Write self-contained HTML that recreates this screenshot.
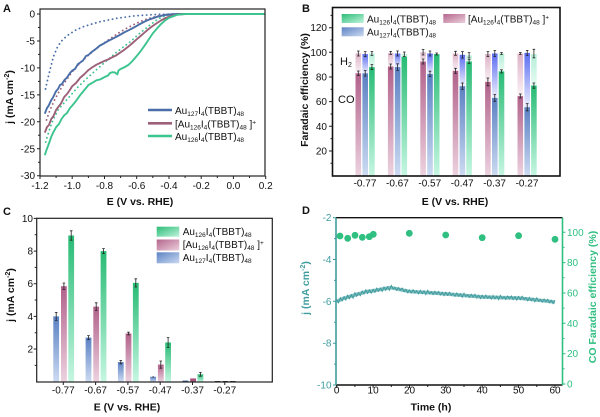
<!DOCTYPE html>
<html><head><meta charset="utf-8"><style>
html,body{margin:0;padding:0;background:#fff;}
svg{display:block;font-family:"Liberation Sans",Arial,sans-serif;}
.t{font-size:10px;fill:#111;}
.b{font-weight:bold;font-size:10.5px;fill:#111;}
.pl{font-weight:bold;font-size:11px;fill:#111;}
</style></head><body>
<svg width="600" height="417" viewBox="0 0 600 417" xmlns="http://www.w3.org/2000/svg">
<defs>
<linearGradient id="gP" x1="0" y1="0" x2="0" y2="1"><stop offset="0" stop-color="#b1618a"/><stop offset="1" stop-color="#ecd2df"/></linearGradient>
<linearGradient id="gB" x1="0" y1="0" x2="0" y2="1"><stop offset="0" stop-color="#5a80c2"/><stop offset="1" stop-color="#cddbf2"/></linearGradient>
<linearGradient id="gG" x1="0" y1="0" x2="0" y2="1"><stop offset="0" stop-color="#27bb74"/><stop offset="1" stop-color="#c6f6e2"/></linearGradient>
<linearGradient id="hP" x1="0" y1="0" x2="0" y2="1"><stop offset="0" stop-color="#dcb2c7"/><stop offset="1" stop-color="#fbf2f6"/></linearGradient>
<linearGradient id="hB" x1="0" y1="0" x2="0" y2="1"><stop offset="0" stop-color="#5b6df0"/><stop offset="1" stop-color="#eef0fe"/></linearGradient>
<linearGradient id="hG" x1="0" y1="0" x2="0" y2="1"><stop offset="0" stop-color="#b3eed7"/><stop offset="1" stop-color="#e8fbf3"/></linearGradient>
<linearGradient id="sG" x1="0" y1="0" x2="1" y2="1"><stop offset="0" stop-color="#2cbd77"/><stop offset="1" stop-color="#bff3dc"/></linearGradient>
<linearGradient id="sP" x1="0" y1="0" x2="1" y2="1"><stop offset="0" stop-color="#b4668c"/><stop offset="1" stop-color="#ecd0dd"/></linearGradient>
<linearGradient id="sB" x1="0" y1="0" x2="1" y2="1"><stop offset="0" stop-color="#5d83c4"/><stop offset="1" stop-color="#cbd9f1"/></linearGradient>
</defs>

<!-- ================= PANEL A ================= -->
<text x="3" y="12" class="pl">A</text>
<g stroke="#222" stroke-width="1" fill="none">
<path d="M40,176 v3 M72.2,176 v3 M104.5,176 v3 M136.7,176 v3 M169,176 v3 M201.2,176 v3 M233.4,176 v3 M265.7,176 v3"/>
<path d="M56.1,176 v2 M88.4,176 v2 M120.6,176 v2 M152.8,176 v2 M185.1,176 v2 M217.3,176 v2 M249.5,176 v2"/>
<path d="M40,14 h-3 M40,40.95 h-3 M40,67.9 h-3 M40,94.85 h-3 M40,121.8 h-3 M40,148.75 h-3 M40,175.7 h-3"/>
<path d="M40,27.5 h-2 M40,54.4 h-2 M40,81.4 h-2 M40,108.3 h-2 M40,135.3 h-2 M40,162.2 h-2"/>
</g>
<g class="t" text-anchor="end">
<text x="35" y="17.5">0</text><text x="35" y="44.5">-5</text><text x="35" y="71.4">-10</text><text x="35" y="98.4">-15</text><text x="35" y="125.3">-20</text><text x="35" y="152.3">-25</text><text x="35" y="179.2">-30</text>
</g>
<g class="t" text-anchor="middle">
<text x="40" y="189">-1.2</text><text x="72.2" y="189">-1.0</text><text x="104.5" y="189">-0.8</text><text x="136.7" y="189">-0.6</text><text x="169" y="189">-0.4</text><text x="201.2" y="189">-0.2</text><text x="233.4" y="189">0.0</text><text x="265.7" y="189">0.2</text>
</g>
<text x="140" y="205" class="b" text-anchor="middle">E (V vs. RHE)</text>
<text transform="translate(13,97) rotate(-90)" class="b" text-anchor="middle">j (mA cm<tspan dy="-4" font-size="7">-2</tspan><tspan dy="4">)</tspan></text>

<g fill="none" stroke-width="1.8" stroke-linecap="round" stroke-dasharray="0.1 4.2">
<polyline stroke="#4a6ea8" points="45.5,89 48,78 50.5,68 53.3,57 57,48 61,41.5 66.7,36 75,30.5 83.3,26.7 92,24 100,21.7 116.7,18.3 133.3,16 146.7,15 160,14.3 175,14 265,14"/>
<polyline stroke="#a0627c" points="46.5,120 50,110 55,99 60,90 66,80.5 72,72 80,63 88,55.5 96,49 104,43 112,37.5 120,32 128,27.5 136,23.5 144,20 152,17.5 160,15.5 170,14.3 180,14 265,14"/>
<polyline stroke="#3cc48e" points="45.7,142 49,131 53,120 58,110 64,103 70,96 78,87 86.7,78.5 95,71 104,63 115,53.5 122,48 130,42 140,33 150,25 158,19 166,15.5 175,14.2 185,14 265,14"/>
</g>
<g fill="none" stroke-width="1.9" stroke-linejoin="round">
<polyline stroke="#4a6ea8" points="44.8,113.7 47,108 48.5,106 51.2,100.2 53,97.5 56.1,91.1 58,89 60,85 62,84 64.2,80.3 67,77.5 70,73 72.2,70.6 75,69 78,64 80.3,62.5 83,60.5 86,56 88.4,55 91,52.5 93,51 96.4,48.5 100,45.5 104.5,43.1 108,41 112.5,38.8 116,37 120.6,34.5 124,32.5 128.7,30.2 132,28.5 136.7,25.9 140,24 144.8,21.5 148,20 152.8,18.3 157,16.8 160.9,15.9 165,15 169,14.5 177,14 265,14"/>
<polyline stroke="#9c6179" points="44.8,132.6 47,127 49,125 51.2,119.1 53.5,116 56.1,109.9 59,106 61,103.5 64.2,97 67,94 69.5,90.5 72.2,86.2 76,83 80.3,77.6 84,74.5 88.4,70.1 92,67.5 96.4,64.7 100,63 104.5,60.9 108,59.5 112.5,57.1 116,55.5 120.6,52.3 124,50 128.7,46.3 132,43.5 136.7,39.3 140,36.5 144.8,32.3 148,29.5 152.8,25.9 157,23 160.9,20.5 165,18.3 169,16.7 177,14.5 185.1,14 265,14"/>
<polyline stroke="#3cc48e" points="44.8,155.2 46.5,150 48,146 49.5,142 51.2,136.9 53.5,132 56.1,127.2 59,124 61.5,119 64.2,115.3 67,113 70,108 72.2,105.6 76,101 80.3,94.9 84,90.5 88.4,85.1 92,83 96.4,80.3 100,79.5 104.5,77.1 108,75.5 110,73 112.5,72.2 115,72.5 117.4,74.4 118.5,70.5 120.6,69 124,67.5 128.7,64.7 132,61.5 136.7,56 140,52 144.8,45.3 148,40.5 152.8,33.4 157,28.5 160.9,24.2 165,20.5 169,17.8 177,14.8 185.1,14 265,14"/>
</g>
<rect x="40" y="9" width="225" height="167" fill="none" stroke="#222" stroke-width="1.2"/>
<g stroke-width="2.6">
<line x1="148" y1="110" x2="172" y2="110" stroke="#4a6ea8"/>
<line x1="148" y1="123.3" x2="172" y2="123.3" stroke="#9c6179"/>
<line x1="148" y1="136" x2="172" y2="136" stroke="#3cc48e"/>
</g>
<g class="t">
<text x="175" y="114">Au<tspan font-size="6.5" dy="2">127</tspan><tspan dy="-2">I</tspan><tspan font-size="6.5" dy="2">4</tspan><tspan dy="-2">(TBBT)</tspan><tspan font-size="6.5" dy="2">48</tspan></text>
<text x="175" y="127.3">[Au<tspan font-size="6.5" dy="2">126</tspan><tspan dy="-2">I</tspan><tspan font-size="6.5" dy="2">4</tspan><tspan dy="-2">(TBBT)</tspan><tspan font-size="6.5" dy="2">48</tspan><tspan dy="-2"> ]</tspan><tspan font-size="6.5" dy="-3">+</tspan></text>
<text x="175" y="140">Au<tspan font-size="6.5" dy="2">126</tspan><tspan dy="-2">I</tspan><tspan font-size="6.5" dy="2">4</tspan><tspan dy="-2">(TBBT)</tspan><tspan font-size="6.5" dy="2">48</tspan></text>
</g>

<!-- ================= PANEL B ================= -->
<text x="302" y="12" class="pl">B</text>
<g stroke="#222" stroke-width="1">
<path d="M332.5,27.7 h-3.5 M332.5,52.3 h-3.5 M332.5,77 h-3.5 M332.5,101.6 h-3.5 M332.5,126.3 h-3.5 M332.5,151 h-3.5"/>
<path d="M332.5,15.4 h-2 M332.5,40 h-2 M332.5,64.7 h-2 M332.5,89.3 h-2 M332.5,114 h-2 M332.5,138.6 h-2 M332.5,163.3 h-2"/>
</g>
<g class="t" text-anchor="end">
<text x="327" y="31.2">120</text><text x="327" y="55.8">100</text><text x="327" y="80.5">80</text><text x="327" y="105.1">60</text><text x="327" y="129.8">40</text><text x="327" y="154.5">20</text>
</g>
<g class="t" text-anchor="middle">
<text x="365" y="186.5">-0.77</text><text x="397.4" y="186.5">-0.67</text><text x="429.8" y="186.5">-0.57</text><text x="462.2" y="186.5">-0.47</text><text x="494.6" y="186.5">-0.37</text><text x="527" y="186.5">-0.27</text>
</g>
<text x="455" y="205" class="b" text-anchor="middle">E (V vs. RHE)</text>
<text transform="translate(308,90) rotate(-90)" class="b" text-anchor="middle">Faradaic efficiency (%)</text>
<text x="340" y="65" font-size="11" fill="#111">H<tspan font-size="7" dy="2">2</tspan></text>
<text x="338" y="103" font-size="11" fill="#111">CO</text>
<g>
<rect x="355.5" y="53.5" width="5.6" height="19.8" fill="url(#hP)"/>
<rect x="362.4" y="54.1" width="5.6" height="19.2" fill="url(#hB)"/>
<rect x="369.1" y="53.5" width="5.6" height="13.6" fill="url(#hG)"/>
<rect x="387.9" y="52.9" width="5.6" height="13.6" fill="url(#hP)"/>
<rect x="394.8" y="53.5" width="5.6" height="13.6" fill="url(#hB)"/>
<rect x="401.5" y="54.1" width="5.6" height="2.5" fill="url(#hG)"/>
<rect x="420.3" y="52.3" width="5.6" height="9.2" fill="url(#hP)"/>
<rect x="427.2" y="53.5" width="5.6" height="20.4" fill="url(#hB)"/>
<rect x="452.7" y="53.5" width="5.6" height="17.3" fill="url(#hP)"/>
<rect x="459.6" y="54.8" width="5.6" height="31.4" fill="url(#hB)"/>
<rect x="466.3" y="55.4" width="5.6" height="6.1" fill="url(#hG)"/>
<rect x="485.1" y="54.1" width="5.6" height="27.8" fill="url(#hP)"/>
<rect x="492" y="53.5" width="5.6" height="44.4" fill="url(#hB)"/>
<rect x="498.7" y="53.5" width="5.6" height="17.9" fill="url(#hG)"/>
<rect x="517.5" y="53.5" width="5.6" height="42.6" fill="url(#hP)"/>
<rect x="524.4" y="52.9" width="5.6" height="54.3" fill="url(#hB)"/>
<rect x="531.1" y="54.1" width="5.6" height="31.5" fill="url(#hG)"/>
</g>
<g>
<rect x="355.5" y="73.3" width="5.6" height="102.3" fill="url(#gP)"/>
<rect x="362.4" y="73.3" width="5.6" height="102.3" fill="url(#gB)"/>
<rect x="369.1" y="67.1" width="5.6" height="108.5" fill="url(#gG)"/>
<rect x="387.9" y="66.5" width="5.6" height="109.1" fill="url(#gP)"/>
<rect x="394.8" y="67.1" width="5.6" height="108.5" fill="url(#gB)"/>
<rect x="401.5" y="56.6" width="5.6" height="119" fill="url(#gG)"/>
<rect x="420.3" y="61.5" width="5.6" height="114.1" fill="url(#gP)"/>
<rect x="427.2" y="73.9" width="5.6" height="101.7" fill="url(#gB)"/>
<rect x="433.9" y="54.1" width="5.6" height="121.5" fill="url(#gG)"/>
<rect x="452.7" y="70.8" width="5.6" height="104.8" fill="url(#gP)"/>
<rect x="459.6" y="86.2" width="5.6" height="89.4" fill="url(#gB)"/>
<rect x="466.3" y="61.5" width="5.6" height="114.1" fill="url(#gG)"/>
<rect x="485.1" y="81.9" width="5.6" height="93.7" fill="url(#gP)"/>
<rect x="492" y="97.9" width="5.6" height="77.7" fill="url(#gB)"/>
<rect x="498.7" y="71.4" width="5.6" height="104.2" fill="url(#gG)"/>
<rect x="517.5" y="96.1" width="5.6" height="79.5" fill="url(#gP)"/>
<rect x="524.4" y="107.2" width="5.6" height="68.4" fill="url(#gB)"/>
<rect x="531.1" y="85.6" width="5.6" height="90" fill="url(#gG)"/>
</g>
<g stroke="#222" stroke-width="0.8" fill="none">
<path d="M358.3,51 v5 M357,51 h2.6 M357,56 h2.6 M365.2,51.6 v5 M363.9,51.6 h2.6 M363.9,56.6 h2.6 M371.9,51.5 v4 M370.6,51.5 h2.6 M370.6,55.5 h2.6"/>
<path d="M358.3,71 v4.6 M357,71 h2.6 M357,75.6 h2.6 M365.2,70.5 v5.6 M363.9,70.5 h2.6 M363.9,76.1 h2.6 M371.9,64.6 v5 M370.6,64.6 h2.6 M370.6,69.6 h2.6"/>
<path d="M390.7,51.4 v3 M389.4,51.4 h2.6 M389.4,54.4 h2.6 M397.6,51 v5 M396.3,51 h2.6 M396.3,56 h2.6 M404.3,52 v4.5 M403,52 h2.6 M403,56.5 h2.6"/>
<path d="M390.7,64 v5 M389.4,64 h2.6 M389.4,69 h2.6 M397.6,63.8 v6.6 M396.3,63.8 h2.6 M396.3,70.4 h2.6"/>
<path d="M423.1,49.5 v5.5 M421.8,49.5 h2.6 M421.8,55 h2.6 M430,51 v5 M428.7,51 h2.6 M428.7,56 h2.6 M436.7,53 v2 M435.4,53 h2.6 M435.4,55 h2.6"/>
<path d="M423.1,59 v5 M421.8,59 h2.6 M421.8,64 h2.6 M430,71.2 v5.4 M428.7,71.2 h2.6 M428.7,76.6 h2.6"/>
<path d="M455.5,51.3 v4 M454.2,51.3 h2.6 M454.2,55.3 h2.6 M462.4,51.5 v6.6 M461.1,51.5 h2.6 M461.1,58.1 h2.6 M469.1,52.6 v5.4 M467.8,52.6 h2.6 M467.8,58 h2.6"/>
<path d="M455.5,68.3 v5 M454.2,68.3 h2.6 M454.2,73.3 h2.6 M462.4,83 v6.4 M461.1,83 h2.6 M461.1,89.4 h2.6 M469.1,59.5 v4 M467.8,59.5 h2.6 M467.8,63.5 h2.6"/>
<path d="M487.9,51.6 v5 M486.6,51.6 h2.6 M486.6,56.6 h2.6 M494.8,50.5 v6 M493.5,50.5 h2.6 M493.5,56.5 h2.6 M501.5,52.5 v2 M500.2,52.5 h2.6 M500.2,54.5 h2.6"/>
<path d="M487.9,78 v7.8 M486.6,78 h2.6 M486.6,85.8 h2.6 M494.8,94.5 v6.8 M493.5,94.5 h2.6 M493.5,101.3 h2.6 M501.5,69.8 v3.2 M500.2,69.8 h2.6 M500.2,73 h2.6"/>
<path d="M520.3,52.5 v2 M519,52.5 h2.6 M519,54.5 h2.6 M527.2,50.4 v5 M525.9,50.4 h2.6 M525.9,55.4 h2.6 M533.9,49.3 v8.5 M532.6,49.3 h2.6 M532.6,57.8 h2.6"/>
<path d="M520.3,94 v4 M519,94 h2.6 M519,98 h2.6 M527.2,103.6 v7.2 M525.9,103.6 h2.6 M525.9,110.8 h2.6 M533.9,83 v5.2 M532.6,83 h2.6 M532.6,88.2 h2.6"/>
</g>
<rect x="332.5" y="7.5" width="227.5" height="168.5" fill="none" stroke="#111" stroke-width="1.6"/>
<rect x="341.7" y="14" width="22" height="9" fill="url(#sG)"/>
<rect x="341.7" y="27.3" width="22" height="9" fill="url(#sB)"/>
<rect x="443.3" y="14" width="22" height="9" fill="url(#sP)"/>
<g class="t">
<text x="367" y="22.3">Au<tspan font-size="6.5" dy="2">126</tspan><tspan dy="-2">I</tspan><tspan font-size="6.5" dy="2">4</tspan><tspan dy="-2">(TBBT)</tspan><tspan font-size="6.5" dy="2">48</tspan></text>
<text x="367" y="35.6">Au<tspan font-size="6.5" dy="2">127</tspan><tspan dy="-2">I</tspan><tspan font-size="6.5" dy="2">4</tspan><tspan dy="-2">(TBBT)</tspan><tspan font-size="6.5" dy="2">48</tspan></text>
<text x="468" y="22.3">[Au<tspan font-size="6.5" dy="2">126</tspan><tspan dy="-2">I</tspan><tspan font-size="6.5" dy="2">4</tspan><tspan dy="-2">(TBBT)</tspan><tspan font-size="6.5" dy="2">48</tspan><tspan dy="-2"> ]</tspan><tspan font-size="6.5" dy="-3">+</tspan></text>
</g>

<!-- ================= PANEL C ================= -->
<text x="3" y="215" class="pl">C</text>
<g stroke="#222" stroke-width="1">
<path d="M36.7,218.4 h-3 M36.7,251.1 h-3 M36.7,283.7 h-3 M36.7,316.4 h-3 M36.7,349 h-3"/>
<path d="M36.7,234.7 h-2 M36.7,267.4 h-2 M36.7,300 h-2 M36.7,332.7 h-2 M36.7,365.4 h-2"/>
<path d="M63.3,382 v3 M95.6,382 v3 M127.9,382 v3 M160.2,382 v3 M192.5,382 v3 M224.8,382 v3"/>
</g>
<g class="t" text-anchor="end">
<text x="33" y="221.9">10</text><text x="33" y="254.6">8</text><text x="33" y="287.2">6</text><text x="33" y="319.9">4</text><text x="33" y="352.5">2</text>
</g>
<g class="t" text-anchor="middle">
<text x="63.3" y="393.5">-0.77</text><text x="95.6" y="393.5">-0.67</text><text x="127.9" y="393.5">-0.57</text><text x="160.2" y="393.5">-0.47</text><text x="192.5" y="393.5">-0.37</text><text x="224.8" y="393.5">-0.27</text>
</g>
<text x="127" y="410.5" class="b" text-anchor="middle">E (V vs. RHE)</text>
<text transform="translate(14,295) rotate(-90)" class="b" text-anchor="middle">j (mA cm<tspan dy="-4" font-size="7">-2</tspan><tspan dy="4">)</tspan></text>
<g>
<rect x="53.3" y="316.4" width="5.8" height="65.6" fill="url(#gB)"/>
<rect x="61" y="286.2" width="5.8" height="95.8" fill="url(#gP)"/>
<rect x="68.3" y="235.5" width="5.8" height="146.5" fill="url(#gG)"/>
<rect x="85.6" y="337.6" width="5.8" height="44.4" fill="url(#gB)"/>
<rect x="93.3" y="306.6" width="5.8" height="75.4" fill="url(#gP)"/>
<rect x="100.6" y="251.1" width="5.8" height="130.9" fill="url(#gG)"/>
<rect x="117.9" y="362.1" width="5.8" height="19.9" fill="url(#gB)"/>
<rect x="125.6" y="333.5" width="5.8" height="48.5" fill="url(#gP)"/>
<rect x="132.9" y="282.9" width="5.8" height="99.1" fill="url(#gG)"/>
<rect x="150.2" y="376.8" width="5.8" height="5.2" fill="url(#gB)"/>
<rect x="157.9" y="364.6" width="5.8" height="17.4" fill="url(#gP)"/>
<rect x="165.2" y="342.5" width="5.8" height="39.5" fill="url(#gG)"/>
<rect x="182.5" y="380.6" width="5.8" height="1.4" fill="#3f5f99"/>
<rect x="190.2" y="378.4" width="5.8" height="3.6" fill="#a8557e"/>
<rect x="197.5" y="374.3" width="5.8" height="7.7" fill="url(#gG)"/>
<rect x="214.8" y="381" width="5.8" height="1" fill="#333"/>
<rect x="222.5" y="381" width="5.8" height="1" fill="#333"/>
<rect x="229.8" y="381" width="5.8" height="1" fill="#333"/>
</g>
<g stroke="#222" stroke-width="0.8" fill="none">
<path d="M56.2,312.4 v8 M54.9,312.4 h2.6 M54.9,320.4 h2.6 M63.9,283 v6.4 M62.6,283 h2.6 M62.6,289.4 h2.6 M71.2,230.8 v9.4 M69.9,230.8 h2.6 M69.9,240.2 h2.6"/>
<path d="M88.5,335.6 v4 M87.2,335.6 h2.6 M87.2,339.6 h2.6 M96.2,302.8 v7.6 M94.9,302.8 h2.6 M94.9,310.4 h2.6 M103.5,248.6 v5 M102.2,248.6 h2.6 M102.2,253.6 h2.6"/>
<path d="M120.8,360.4 v3.4 M119.5,360.4 h2.6 M119.5,363.8 h2.6 M128.5,332.2 v2.6 M127.2,332.2 h2.6 M127.2,334.8 h2.6 M135.8,278.8 v8.2 M134.5,278.8 h2.6 M134.5,287 h2.6"/>
<path d="M153.1,376 v1.6 M168.1,337.6 v9.8 M166.8,337.6 h2.6 M166.8,347.4 h2.6 M160.8,361 v7.2 M159.5,361 h2.6 M159.5,368.2 h2.6"/>
<path d="M200.4,372.4 v3.8 M199.1,372.4 h2.6 M199.1,376.2 h2.6"/>
</g>
<rect x="36.7" y="218.3" width="235.6" height="163.7" fill="none" stroke="#222" stroke-width="1.2"/>
<rect x="156.7" y="226.7" width="22.6" height="10" fill="url(#sG)"/>
<rect x="156.7" y="239.5" width="22.6" height="11" fill="url(#sP)"/>
<rect x="156.7" y="252.3" width="22.6" height="11" fill="url(#sB)"/>
<g class="t">
<text x="182.7" y="235">Au<tspan font-size="6.5" dy="2">126</tspan><tspan dy="-2">I</tspan><tspan font-size="6.5" dy="2">4</tspan><tspan dy="-2">(TBBT)</tspan><tspan font-size="6.5" dy="2">48</tspan></text>
<text x="182.7" y="248">[Au<tspan font-size="6.5" dy="2">126</tspan><tspan dy="-2">I</tspan><tspan font-size="6.5" dy="2">4</tspan><tspan dy="-2">(TBBT)</tspan><tspan font-size="6.5" dy="2">48</tspan><tspan dy="-2"> ]</tspan><tspan font-size="6.5" dy="-3">+</tspan></text>
<text x="182.7" y="261">Au<tspan font-size="6.5" dy="2">127</tspan><tspan dy="-2">I</tspan><tspan font-size="6.5" dy="2">4</tspan><tspan dy="-2">(TBBT)</tspan><tspan font-size="6.5" dy="2">48</tspan></text>
</g>

<!-- ================= PANEL D ================= -->
<text x="302" y="214" class="pl">D</text>
<g stroke="#3f9c9e" stroke-width="1">
<path d="M336,217.7 h-3 M336,259.5 h-3 M336,301.3 h-3 M336,343.2 h-3 M336,385 h-3"/>
<path d="M336,238.6 h-2 M336,280.4 h-2 M336,322.3 h-2 M336,364.1 h-2"/>
</g>
<g stroke="#2fbf80" stroke-width="1">
<path d="M562.5,384 h3 M562.5,353.7 h3 M562.5,323.3 h3 M562.5,293 h3 M562.5,262.6 h3 M562.5,232.3 h3"/>
<path d="M562.5,368.8 h2 M562.5,338.5 h2 M562.5,308.1 h2 M562.5,277.8 h2 M562.5,247.4 h2"/>
</g>
<g stroke="#222" stroke-width="1">
<path d="M336.7,385 v3 M373.1,385 v3 M409.5,385 v3 M445.8,385 v3 M482.2,385 v3 M518.6,385 v3 M555,385 v3"/>
<path d="M354.9,385 v2 M391.3,385 v2 M427.7,385 v2 M464,385 v2 M500.4,385 v2 M536.8,385 v2"/>
</g>
<g class="t" text-anchor="end" style="fill:#3f9c9e">
<text x="331.5" y="221.2">-2</text><text x="331.5" y="263">-4</text><text x="331.5" y="304.8">-6</text><text x="331.5" y="346.7">-8</text><text x="331.5" y="388.5">-10</text>
</g>
<g class="t" style="fill:#2fbf80">
<text x="567" y="387.5">0</text><text x="567" y="357.2">20</text><text x="567" y="326.8">40</text><text x="567" y="296.5">60</text><text x="567" y="266.1">80</text><text x="567" y="235.8">100</text>
</g>
<g class="t" text-anchor="middle">
<text x="336.7" y="393.5">0</text><text x="373.1" y="393.5">10</text><text x="409.5" y="393.5">20</text><text x="445.8" y="393.5">30</text><text x="482.2" y="393.5">40</text><text x="518.6" y="393.5">50</text><text x="555" y="393.5">60</text>
</g>
<text x="431" y="410.5" class="b" text-anchor="middle">Time (h)</text>
<text transform="translate(309,288) rotate(-90)" class="b" text-anchor="middle" style="fill:#3f9c9e">j (mA cm<tspan dy="-4" font-size="7">-2</tspan><tspan dy="4">)</tspan></text>
<text transform="translate(596,297) rotate(-90)" class="b" text-anchor="middle" style="fill:#2fbf80">CO Faradaic efficiency (%)</text>
<polyline fill="none" stroke="#5aaaac" stroke-width="3.6" stroke-opacity="0.75" stroke-linejoin="round" points="336.7,301.3 340.3,299.8 344,298.1 347.6,297.1 351.3,296 354.9,295 358.5,293.9 362.2,292.9 365.8,291.8 369.4,291.2 373.1,290.9 380.4,289.4 387.6,288.1 391.3,287.7 398.5,289.3 409.5,291.5 427.7,292.6 445.8,293.9 464,295.4 482.2,296.9 500.4,297.6 518.6,298.1 536.8,300 555,302"/>
<polyline fill="none" stroke="#3f9c9e" stroke-width="1" points="336.7,299.7 338.5,302.7 340.3,297.8 342.1,300.9 344.0,296.9 345.8,300.0 347.6,295.3 349.4,298.6 351.3,294.6 353.1,298.1 354.9,292.8 356.7,296.2 358.5,292.9 360.3,295.6 362.2,291.2 364.0,293.9 365.8,289.9 367.6,293.4 369.4,289.9 371.2,293.2 373.1,289.3 374.9,292.3 376.7,288.2 378.5,291.3 380.4,288.2 382.2,291.3 384.0,287.0 385.8,290.3 387.6,286.7 389.4,290.2 391.3,285.5 393.1,288.9 394.9,287.5 396.7,290.2 398.5,287.6 400.3,290.3 402.2,288.1 404.0,291.6 405.8,289.5 407.6,292.8 409.5,289.9 411.3,292.9 413.1,289.8 414.9,292.9 416.7,290.8 418.5,293.9 420.4,290.4 422.2,293.7 424.0,291.0 425.8,294.5 427.7,290.4 429.5,293.8 431.3,291.8 433.1,294.5 434.9,291.3 436.7,294.0 438.6,291.4 440.4,294.9 442.2,292.3 444.0,295.6 445.8,292.3 447.6,295.3 449.5,292.2 451.3,295.3 453.1,293.3 454.9,296.4 456.8,293.0 458.6,296.3 460.4,293.7 462.2,297.2 464.0,293.2 465.8,296.6 467.7,294.7 469.5,297.4 471.3,294.3 473.1,297.0 474.9,294.4 476.7,297.9 478.6,295.3 480.4,298.6 482.2,295.3 484.0,298.3 485.9,295.1 487.7,298.2 489.5,296.0 491.3,299.1 493.1,295.6 494.9,298.9 496.8,296.1 498.6,299.6 500.4,295.4 502.2,298.8 504.0,296.7 505.8,299.4 507.7,296.1 509.5,298.8 511.3,296.0 513.1,299.5 515.0,296.7 516.8,300.0 518.6,296.5 520.4,299.5 522.2,296.4 524.0,299.5 525.9,297.6 527.7,300.7 529.5,297.4 531.3,300.7 533.1,298.2 534.9,301.7 536.8,297.8 538.6,301.2 540.4,299.4 542.2,302.1 544.1,299.1 545.9,301.8 547.7,299.3 549.5,302.8 551.3,300.3 553.1,303.6 555.0,300.4"/>
<g fill="#2fbf80">
<circle cx="340" cy="236" r="3.4"/><circle cx="347.7" cy="238.3" r="3.4"/><circle cx="355" cy="235.3" r="3.4"/><circle cx="362.3" cy="237.3" r="3.4"/><circle cx="369.3" cy="236.7" r="3.4"/><circle cx="373.3" cy="234.3" r="3.4"/><circle cx="409.3" cy="233.3" r="3.4"/><circle cx="445.7" cy="235" r="3.4"/><circle cx="482.2" cy="237.7" r="3.4"/><circle cx="518.6" cy="235.7" r="3.4"/><circle cx="555" cy="239.3" r="3.4"/>
</g>
<line x1="336" y1="217.7" x2="562.5" y2="217.7" stroke="#111" stroke-width="1.4"/>
<line x1="336" y1="385" x2="562.5" y2="385" stroke="#111" stroke-width="1.4"/>
<line x1="336" y1="217.7" x2="336" y2="385" stroke="#3f9c9e" stroke-width="1.6"/>
<line x1="562.5" y1="217.7" x2="562.5" y2="385" stroke="#2fbf80" stroke-width="1.6"/>
</svg>
</body></html>
